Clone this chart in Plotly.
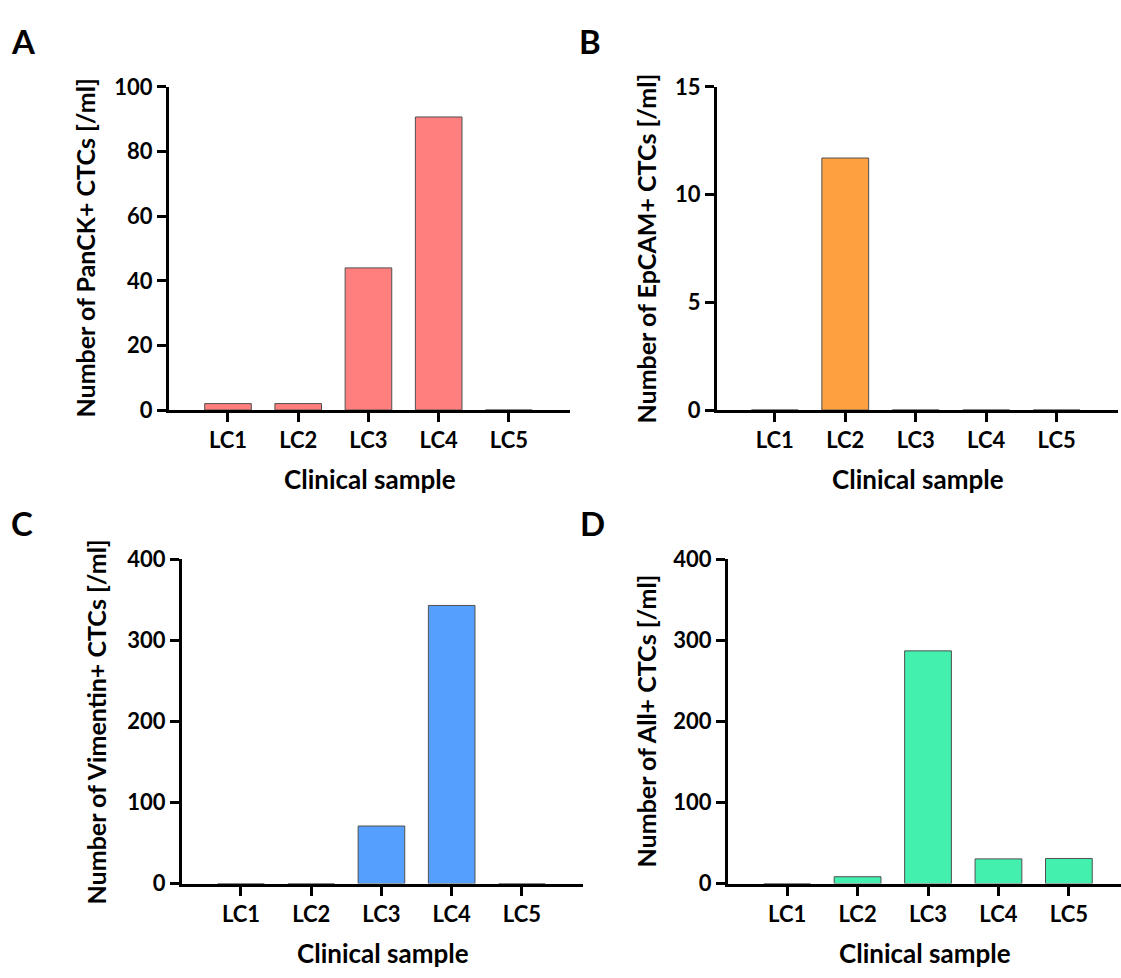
import plotly.graph_objects as go

W, H = 1121, 978

categories = ["LC1", "LC2", "LC3", "LC4", "LC5"]
panck_values = [2, 2, 44, 90.7, 0]
epcam_values = [0, 11.7, 0, 0, 0]
vimentin_values = [0, 0, 71, 343, 0]
all_values = [0, 8.5, 287, 30.5, 31]

panel_letters = ["A", "B", "C", "D"]
y_titles = [
    "Number of PanCK+ CTCs [/ml]",
    "Number of EpCAM+ CTCs [/ml]",
    "Number of Vimentin+ CTCs [/ml]",
    "Number of All+ CTCs [/ml]",
]
x_title = "Clinical sample"
y_tickvals = [[0, 20, 40, 60, 80, 100], [0, 5, 10, 15], [0, 100, 200, 300, 400], [0, 100, 200, 300, 400]]
y_ranges = [[0, 100], [0, 15], [0, 400], [0, 400]]
colors = ["#FF7F7F", "#FFA040", "#559FFF", "#44F0AE"]
series = [panck_values, epcam_values, vimentin_values, all_values]

# layout in pixels: (yaxis x, xaxis right end, top px, bottom px, xrange)
panels = [
    dict(x0=169, x1=570, top=75, bot=407.3, xr=[-0.84, 4.87]),
    dict(x0=717, x1=1118, top=75, bot=407.3, xr=[-0.82, 4.87]),
    dict(x0=182, x1=583, top=560.7, bot=894.3, xr=[-0.84, 4.87]),
    dict(x0=728, x1=1121, top=560.7, bot=894.3, xr=[-0.84, 4.74]),
]
ytitle_x = [85, 646, 96, 646]
letter_pos = [(23, 28), (590, 28), (22, 523), (592, 523)]

FONT = "Lato"
BLACK = "#000000"

fig = go.Figure()
annotations = []
for i, p in enumerate(panels):
    ax = "" if i == 0 else str(i + 1)
    fig.add_trace(go.Bar(
        x=categories, y=series[i],
        xaxis="x" + ax, yaxis="y" + ax,
        width=0.664,
        marker=dict(color=colors[i], line=dict(color="#505050", width=1)),
        showlegend=False,
    ))
    xd = [p["x0"] / W, min(p["x1"] / W, 1.0)]
    yd = [1 - p["bot"] / H, 1 - p["top"] / H]
    fig.layout["xaxis" + ax] = dict(
        domain=xd, anchor="y" + ax, range=p["xr"], type="category",
        showline=True, linewidth=3, linecolor=BLACK,
        ticks="outside", ticklen=9, tickwidth=3, tickcolor=BLACK,
        showgrid=False, zeroline=False,
        tickfont=dict(family=FONT, size=22, color=BLACK, weight="bold"),
        fixedrange=True,
    )
    fig.layout["yaxis" + ax] = dict(
        domain=yd, anchor="x" + ax, range=y_ranges[i],
        tickvals=y_tickvals[i],
        showline=True, linewidth=3, linecolor=BLACK,
        ticks="outside", ticklen=9, tickwidth=3, tickcolor=BLACK,
        showgrid=False, zeroline=False,
        tickfont=dict(family=FONT, size=22, color=BLACK, weight="bold"),
        fixedrange=True,
    )
    # axis titles
    annotations.append(dict(
        text=x_title, xref="paper", yref="paper",
        x=(p["x0"] + p["x1"]) / 2 / W, y=1 - (p["bot"] + 71) / H,
        xanchor="center", yanchor="middle", showarrow=False,
        font=dict(family=FONT, size=26, color=BLACK, weight="bold"),
    ))
    annotations.append(dict(
        text=y_titles[i], xref="paper", yref="paper",
        x=ytitle_x[i] / W, y=1 - (p["top"] + p["bot"]) / 2 / H,
        xanchor="center", yanchor="middle", showarrow=False, textangle=-90,
        font=dict(family=FONT, size=25, color=BLACK, weight="bold"),
    ))
    lx, ly = letter_pos[i]
    annotations.append(dict(
        text=panel_letters[i], xref="paper", yref="paper",
        x=lx / W, y=1 - ly / H, xanchor="center", yanchor="middle",
        showarrow=False,
        font=dict(family=FONT, size=33, color=BLACK, weight="bold"),
    ))

fig.update_layout(
    width=W, height=H,
    margin=dict(l=0, r=0, t=0, b=0),
    paper_bgcolor="white", plot_bgcolor="white",
    annotations=annotations,
    hovermode=False,
)

fig.write_html(
    "out.html",
    config={"displayModeBar": False, "staticPlot": True},
    post_script="document.body.style.margin='0';document.body.style.overflow='hidden';",
)
